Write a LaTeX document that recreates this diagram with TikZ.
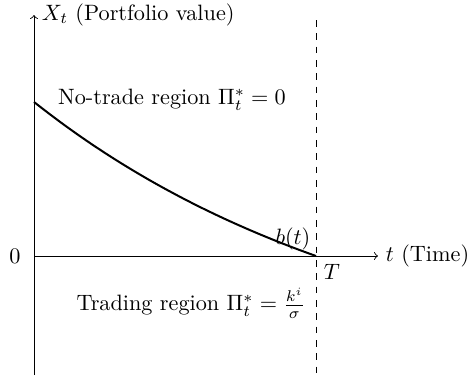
\documentclass[tikz,border=0pt]{standalone}
\usetikzlibrary{arrows,calc}

\begin{document}
\begin{tikzpicture}[x=0.45pt,y=0.45pt]
\tikzset{axisline/.style={line width=0.4pt,color=black}}
\tikzset{bdry/.style={line width=0.9pt,color=black}}
\useasboundingbox (-34,-121) rectangle (437,256);

\coordinate (O) at (0,0);
\coordinate (Ytop) at (0,241);
\coordinate (Ybot) at (0,-119);
\coordinate (Xend) at (344,0);
\coordinate (T) at (282,0);
\coordinate (Ttop) at (282,236);
\coordinate (Tbot) at (282,-121);

% axes
\draw[axisline,->] (Ybot) -- (Ytop) node[right] (ylab) {$X_t$ (Portfolio value)};
\draw[axisline,->] (O) -- (Xend) node[right] (xlab) {$t$ (Time)};
\draw[axisline,dashed] (Ttop) -- (Tbot);

% boundary b(t)
\draw[bdry] plot[domain=0:282,samples=60] (\x,{154*(exp(-0.8*\x/282)-exp(-0.8))/(1-exp(-0.8))});

\node[left=2.5pt] (zero) at (O) {$0$};
\node[below right] (Tlab) at (T) {$T$};
\node[above left,xshift=1pt,yshift=-1pt] (blab) at (T) {$b(t)$};

\node (notrade) at (138,156) {No-trade region $\Pi_t^*=0$};
\node (trading) at (157,-47) {Trading region $\Pi_t^*=\frac{k^i}{\sigma}$};

\end{tikzpicture}
\end{document}
